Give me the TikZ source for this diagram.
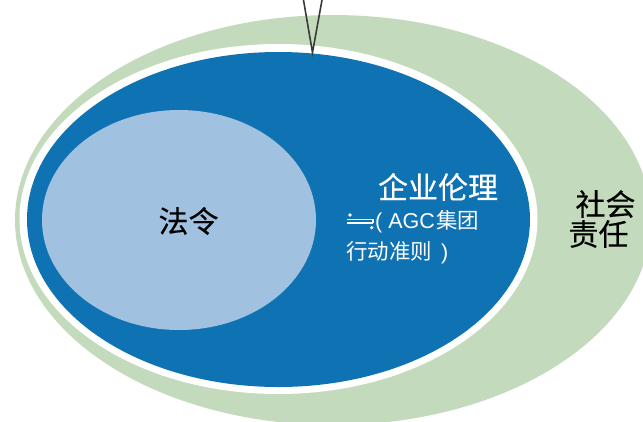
\documentclass[tikz,border=0pt]{standalone}
\usepackage{fontspec}
\newfontfamily\cjk{Noto Sans CJK SC}
\newfontfamily\cjkbig[FakeBold=0.25]{Noto Sans CJK SC}
\newfontfamily\latin{Liberation Sans}
\definecolor{sage}{HTML}{C3DBBC}
\definecolor{deepblue}{HTML}{0E72B3}
\definecolor{paleblue}{HTML}{A0C1E0}
\definecolor{wire}{HTML}{3A3A3A}
\tikzset{
  bigtext/.style={inner sep=0pt,anchor=center,font=\cjkbig\fontsize{30}{34}\selectfont},
  smalltext/.style={inner sep=0pt,anchor=west,text=white,font=\cjk\fontsize{21.5}{24}\selectfont},
  glyph/.style={draw=white,line width=1.1pt}
}
\begin{document}
\begin{tikzpicture}[x=1pt,y=-1pt]
\useasboundingbox (0,0) rectangle (643,421);
\clip (0,0) rectangle (643,421);
\fill[sage] (333,220) ellipse [x radius=318,y radius=205];
\fill[white] (278.5,219) ellipse [x radius=259,y radius=175];
\fill[deepblue] (278.5,219.5) ellipse [x radius=251.5,y radius=167.5];
\fill[paleblue] (179,220) ellipse [x radius=137,y radius=110];
\coordinate (tipL) at (303.5,0);
\coordinate (tip) at (312.5,52.5);
\coordinate (tipR) at (322,0);
\draw[wire,line width=1.6pt,line join=miter] (tipL) -- (tip) -- (tipR);
\node[bigtext,text=black] (law) at (188.5,221) {法令};
\node[bigtext,text=white] (ethics) at (438,187) {企业伦理};
\node[bigtext,text=black] (soc) at (605.5,204) {社会};
\node[bigtext,text=black] (duty) at (598.5,234) {责任};
\node[smalltext] (code1) at (375,222) {{\latin( AGC}\hspace{1.5pt}集团};
\node[smalltext] (code2) at (346,253) {行动准则{\latin\hspace{3pt} )}};
% small ornament printed before the bracket
\fill[white] (350,215) circle (1.8);
\fill[white] (371.7,227.7) circle (1.8);
\draw[glyph] (347,219.3) -- (373,219.3);
\draw[glyph] (347,223) -- (373,223);
\draw[glyph] (373,219.3) -- (373,223);
\end{tikzpicture}
\end{document}
